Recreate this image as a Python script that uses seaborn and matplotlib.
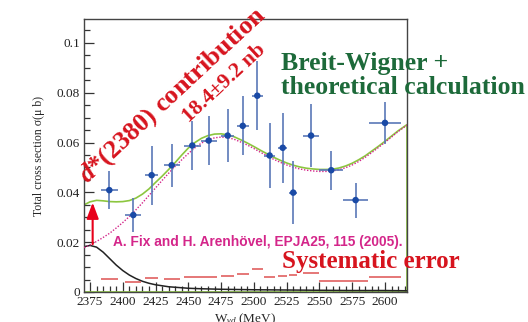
import matplotlib
matplotlib.use("Agg")
import matplotlib.pyplot as plt
import matplotlib.ticker as mticker
import numpy as np
import pandas as pd
import seaborn as sns

# measured points
w_data = [2389.7, 2408.0, 2422.0, 2437.3, 2453.0, 2465.5, 2480.0, 2491.5,
          2502.6, 2512.0, 2522.0, 2530.0, 2543.6, 2559.0, 2577.6, 2600.0]
sigma = [0.0409, 0.0309, 0.0469, 0.0509, 0.0588, 0.0608, 0.0628, 0.0667,
         0.0788, 0.0548, 0.0579, 0.0399, 0.0628, 0.0489, 0.0369, 0.0679]
sigma_err = [0.0077, 0.0068, 0.0118, 0.0087, 0.0097, 0.0100, 0.0106, 0.0118,
             0.0138, 0.0130, 0.0140, 0.0125, 0.0128, 0.0078, 0.0070, 0.0083]
w_err = [6.5, 6.0, 5.0, 6.0, 6.5, 6.0, 5.0, 4.5, 4.0, 4.0, 3.5, 3.0, 6.0, 9.0, 9.5, 12.0]
sys_err = [0.0052, 0.0041, 0.0055, 0.0053, 0.0060, 0.0061, 0.0063, 0.0074,
           0.0094, 0.0059, 0.0063, 0.0068, 0.0078, 0.0045, 0.0045, 0.0061]

# Breit-Wigner + theory (green)
w_bw = [2370.5, 2375, 2380, 2385, 2390, 2395, 2400, 2405, 2410, 2415, 2420, 2425,
        2430, 2435, 2440, 2445, 2450, 2455, 2460, 2465, 2470, 2475, 2480, 2485,
        2490, 2495, 2500, 2505, 2510, 2515, 2520, 2525, 2530, 2535, 2540, 2545,
        2550, 2555, 2560, 2565, 2570, 2575, 2580, 2585, 2590, 2595, 2600, 2605,
        2610, 2616.8]
s_bw = [0.0350, 0.0362, 0.0368, 0.0366, 0.0363, 0.0362, 0.0363, 0.0367, 0.0377,
        0.0393, 0.0414, 0.0440, 0.0465, 0.0492, 0.0520, 0.0550, 0.0578, 0.0600,
        0.0617, 0.0628, 0.0634, 0.0635, 0.0631, 0.0623, 0.0611, 0.0598, 0.0584,
        0.0569, 0.0555, 0.0541, 0.0529, 0.0518, 0.0509, 0.0502, 0.0497, 0.0494,
        0.0492, 0.0492, 0.0493, 0.0498, 0.0506, 0.0517, 0.0531, 0.0547, 0.0566,
        0.0585, 0.0605, 0.0626, 0.0647, 0.0672]

# Fix & Arenhoevel calculation (magenta dotted)
s_fix = [0.0178, 0.0189, 0.0203, 0.0219, 0.0236, 0.0257, 0.0279, 0.0303, 0.0330,
         0.0358, 0.0388, 0.0418, 0.0448, 0.0477, 0.0505, 0.0531, 0.0556, 0.0579,
         0.0598, 0.0611, 0.0619, 0.0622, 0.0620, 0.0613, 0.0602, 0.0590, 0.0576,
         0.0561, 0.0547, 0.0533, 0.0521, 0.0510, 0.0501, 0.0494, 0.0489, 0.0486,
         0.0484, 0.0484, 0.0486, 0.0491, 0.0499, 0.0510, 0.0524, 0.0541, 0.0560,
         0.0580, 0.0601, 0.0622, 0.0644, 0.0670]

# d*(2380) contribution (black)
w_dstar = [2370.5, 2375, 2380, 2385, 2390, 2395, 2400, 2405, 2410, 2415, 2420,
           2425, 2430, 2435, 2440, 2450, 2460, 2475, 2500, 2525, 2550, 2575,
           2600, 2616.8]
s_dstar = [0.0182, 0.0187, 0.0180, 0.0160, 0.0134, 0.0108, 0.0086, 0.0068,
           0.0054, 0.0043, 0.0035, 0.0029, 0.0025, 0.0021, 0.0019, 0.0015,
           0.0013, 0.0011, 0.0009, 0.0008, 0.0007, 0.0006, 0.0006, 0.0005]

arrow_w = 2377
arrow_lo, arrow_hi = 0.0192, 0.0359

sns.set_theme(style="ticks")
plt.rcParams["font.family"] = ["Liberation Serif", "DejaVu Serif"]
plt.rcParams["mathtext.fontset"] = "custom"
plt.rcParams["mathtext.rm"] = "Liberation Serif"
plt.rcParams["mathtext.it"] = "Liberation Serif:italic"
plt.rcParams["mathtext.bf"] = "Liberation Serif:bold"
plt.rcParams["mathtext.bfit"] = "Liberation Serif:italic:bold"

red = "#d7141e"
green_txt = "#1d6a3a"
green_line = "#8cc63f"
magenta = "#d4268a"
blue = "#1a4aa6"
blue_bar = "#5a78b8"

fig = plt.figure(figsize=(5.28, 3.22), dpi=100)
ax = fig.add_axes([84 / 528, 1 - 292 / 322, 323 / 528, 273 / 322])

df_bw = pd.DataFrame({"W": w_bw, "bw": s_bw, "fix": s_fix})
df_d = pd.DataFrame({"W": w_dstar, "s": s_dstar})

ax.fill_between(w_bw, 0, s_bw, facecolor="none", edgecolor=green_line, lw=1.2, zorder=1)
sns.lineplot(data=df_bw, x="W", y="fix", ax=ax, color=magenta, lw=1.0,
             linestyle=(0, (1, 1.2)), sort=False, zorder=3)
sns.lineplot(data=df_d, x="W", y="s", ax=ax, color="#222222", lw=1.1, sort=False)

w_arr = np.array(w_data)
ax.hlines(sys_err, w_arr - np.array(w_err), w_arr + np.array(w_err),
          colors="#e06060", lw=1.2, zorder=2)

ax.errorbar(w_data, sigma, yerr=sigma_err, xerr=w_err, fmt="none",
            ecolor=blue_bar, elinewidth=1.2, capsize=0, zorder=4)
sns.scatterplot(x=w_data, y=sigma, ax=ax, color=blue, s=22, edgecolor="none", zorder=5)

ax.annotate("", xy=(arrow_w, arrow_hi), xytext=(arrow_w, arrow_lo),
            arrowprops=dict(arrowstyle="-|>,head_width=0.3,head_length=0.8",
                            color="#e8001a", lw=1.5, shrinkA=0, shrinkB=0), zorder=6)

ax.set_xlim(2370.4, 2616.8)
ax.set_ylim(0, 0.1096)
ax.xaxis.set_major_locator(mticker.MultipleLocator(25))
ax.xaxis.set_minor_locator(mticker.MultipleLocator(5))
ax.yaxis.set_major_locator(mticker.MultipleLocator(0.02))
ax.yaxis.set_minor_locator(mticker.MultipleLocator(0.005))
ax.yaxis.set_major_formatter(mticker.FuncFormatter(lambda v, p: "%g" % round(v, 3)))
ax.tick_params(which="both", direction="in", colors="#333333", labelcolor="#222222",
               labelsize=9.5, width=0.9)
ax.tick_params(which="major", length=7, pad=3)
ax.tick_params(which="minor", length=4)
for s in ax.spines.values():
    s.set_color("#444444")
    s.set_linewidth(1.0)

ax.set_xlabel(r"W$_{\gamma d}$ (MeV)", fontsize=9.5, labelpad=2)
ax.set_ylabel(r"Total cross section σ(μ b)", fontsize=8.5, labelpad=8)

fig.text(173 / 528, 1 - 95 / 322, r"$\mathbfit{d}$*(2380) contribution", color=red,
         fontsize=19, fontweight="bold", rotation=43, rotation_mode="anchor",
         ha="center", va="center")
fig.text(224 / 528, 1 - 83 / 322, "18.4±9.2 nb", color=red,
         fontsize=15.5, fontweight="bold", rotation=43, rotation_mode="anchor",
         ha="center", va="center")
fig.text(281 / 528, 1 - 70 / 322, "Breit-Wigner +", color=green_txt, fontsize=18.5,
         fontweight="bold", ha="left", va="baseline")
fig.text(281 / 528, 1 - 94 / 322, "theoretical calculation", color=green_txt,
         fontsize=18.5, fontweight="bold", ha="left", va="baseline")
fig.text(113 / 528, 1 - 242 / 322, "A. Fix and H. Arenhövel, EPJA25, 115 (2005).",
         color=magenta, fontsize=9.9, fontweight="bold", ha="left", va="center",
         family=["Liberation Sans", "DejaVu Sans"])
fig.text(282 / 528, 1 - 268 / 322, "Systematic error", color=red, fontsize=18,
         fontweight="bold", ha="left", va="baseline")

fig.savefig("out.png", dpi=100)
